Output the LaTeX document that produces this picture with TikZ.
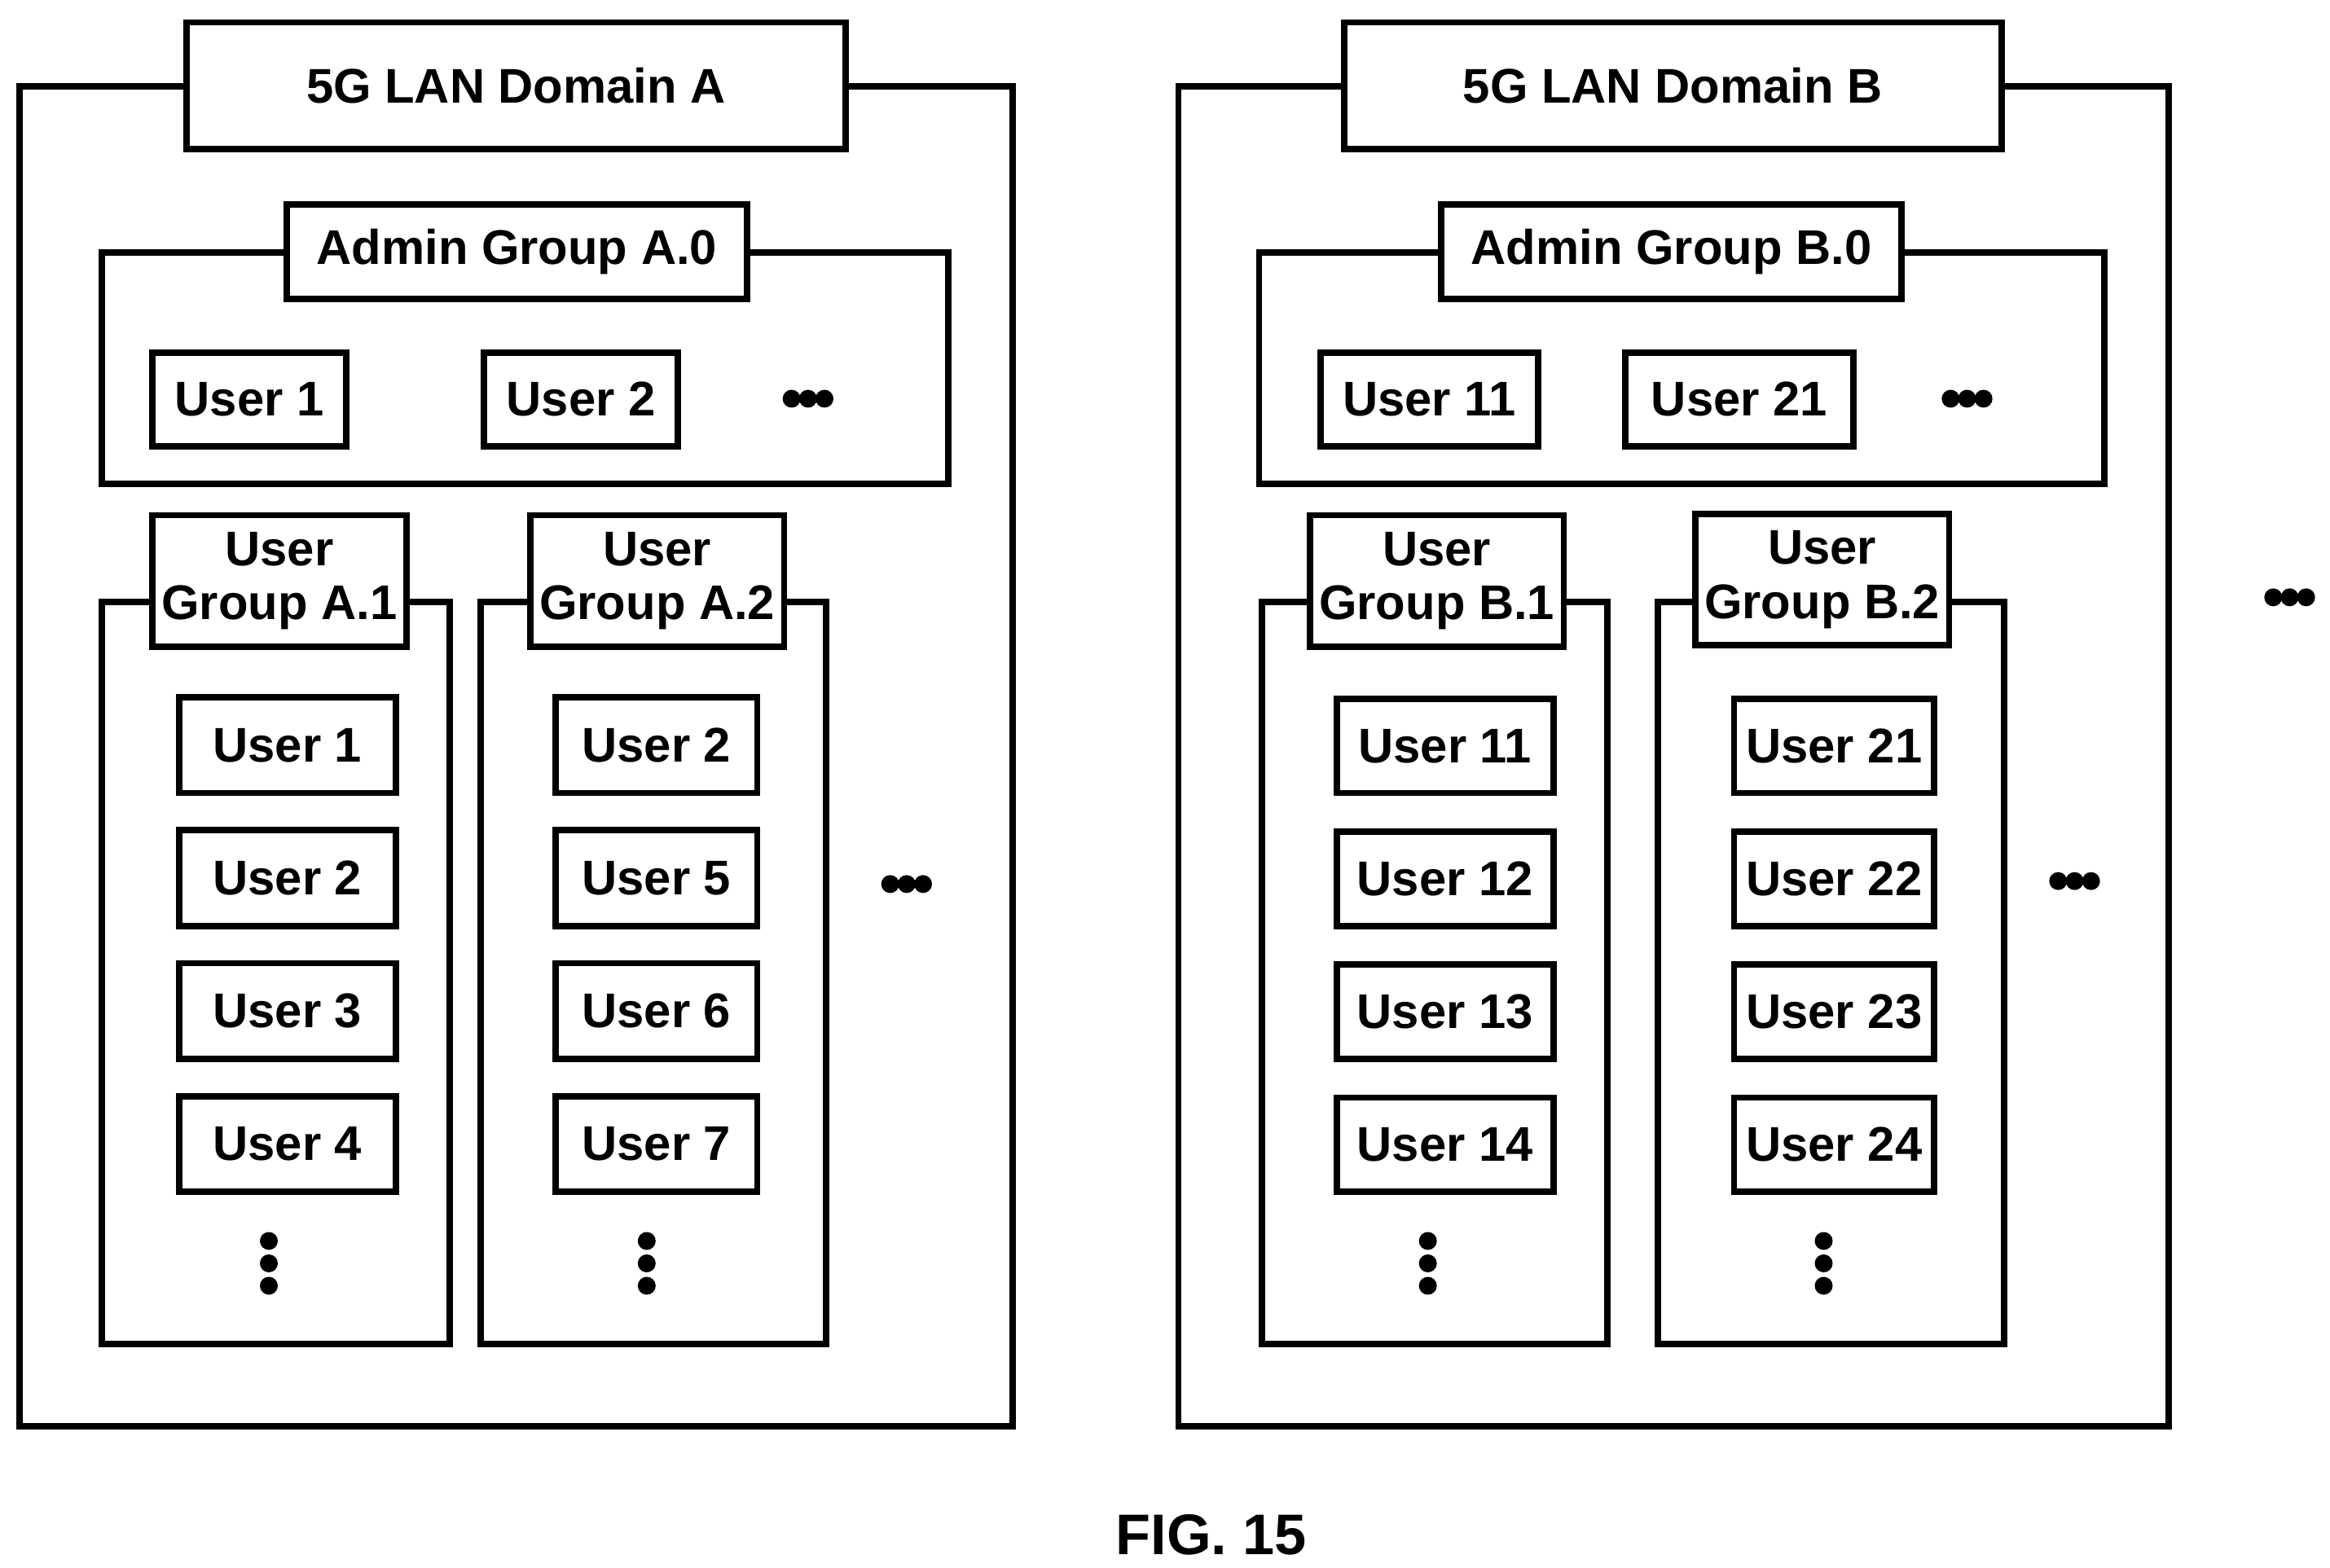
\documentclass[tikz,border=0pt]{standalone}
\usepackage{fontspec}
\setmainfont{Liberation Sans}
\usetikzlibrary{positioning}
\def\u{0.018333cm}
\newcommand\bx[6]{\node[box, minimum width={((#4)-(#2)-4)*\u}, minimum height={((#5)-(#3)-4)*\u}] (#1) at ({((#2)+(#4))/2},{((#3)+(#5))/2}) {#6};}
\newcommand\rowdots[3]{\foreach \k in {-1,0,1} \node[dot] (#1\k) at ({#2+11*\k},#3) {};}
\newcommand\coldots[3]{\foreach \k in {-1,0,1} \node[dot] (#1\k) at (#2,{#3+15*\k}) {};}
\begin{document}
\begin{tikzpicture}[x=\u, y=-\u,
    frame/.style={draw, line width=2.2pt},
    box/.style={rectangle, draw, fill=white, line width=2.2pt, inner sep=0pt,
                font=\fontsize{17}{19}\selectfont\bfseries, align=center},
    dot/.style={circle, fill=black, inner sep=0pt, minimum size=12*\u},
  ]
  \useasboundingbox (0,0) rectangle (1560,1050);

  %               %Domain A
  \draw[frame] (13,58) rectangle (678,955);
  \bx{domA}{123}{13}{568}{102}{5G LAN Domain A}
  \draw[frame] (68,169) rectangle (635,324);
  \bx{admA}{190}{135}{502}{202}{Admin Group A.0}
  \bx{aA1}{100}{234}{234}{301}{User 1}
  \bx{aA2}{322}{234}{456}{301}{User 2}
  \rowdots{dAdmA}{541}{267}
  \draw[frame] (68,403) rectangle (301,900);
  \bx{gA1}{100}{343}{274}{435}{User\\Group A.1}
  \draw[frame] (322,403) rectangle (553,900);
  \bx{gA2}{353}{343}{527}{435}{User\\Group A.2}
  \foreach \n/\m [count=\i from 0] in {1/2,2/5,3/6,4/7} {
    \bx{uA1\n}{118}{465+89*\i}{267}{533+89*\i}{User \n}
    \bx{uA2\m}{370}{465+89*\i}{509}{533+89*\i}{User \m}
  }
  \coldots{vA1}{180}{846}
  \coldots{vA2}{433}{846}
  \rowdots{dA}{607}{592}

  %               %Domain B
  \draw[frame] (789,58) rectangle (1452,955);
  \bx{domB}{898}{13}{1342}{102}{5G LAN Domain B}
  \draw[frame] (843,169) rectangle (1409,324);
  \bx{admB}{963}{135}{1275}{202}{Admin Group B.0}
  \bx{aB11}{882}{234}{1032}{301}{User 11}
  \bx{aB21}{1086}{234}{1243}{301}{User 21}
  \rowdots{dAdmB}{1317}{267}
  \draw[frame] (845,403) rectangle (1076,900);
  \bx{gB1}{875}{343}{1049}{435}{User\\Group B.1}
  \draw[frame] (1110,403) rectangle (1342,900);
  \bx{gB2}{1133}{342}{1307}{434}{User\\Group B.2}
  \foreach \n/\m [count=\i from 0] in {11/21,12/22,13/23,14/24} {
    \bx{uB1\n}{893}{466+89*\i}{1042}{533+89*\i}{User \n}
    \bx{uB2\m}{1159}{466+89*\i}{1297}{533+89*\i}{User \m}
  }
  \coldots{vB1}{956}{846}
  \coldots{vB2}{1221}{846}
  \rowdots{dB}{1389}{590}
  \rowdots{dR}{1533}{400}

  \node[font=\fontsize{20}{22}\selectfont\bfseries] (fig) at (811,1028) {FIG. 15};
\end{tikzpicture}
\end{document}
